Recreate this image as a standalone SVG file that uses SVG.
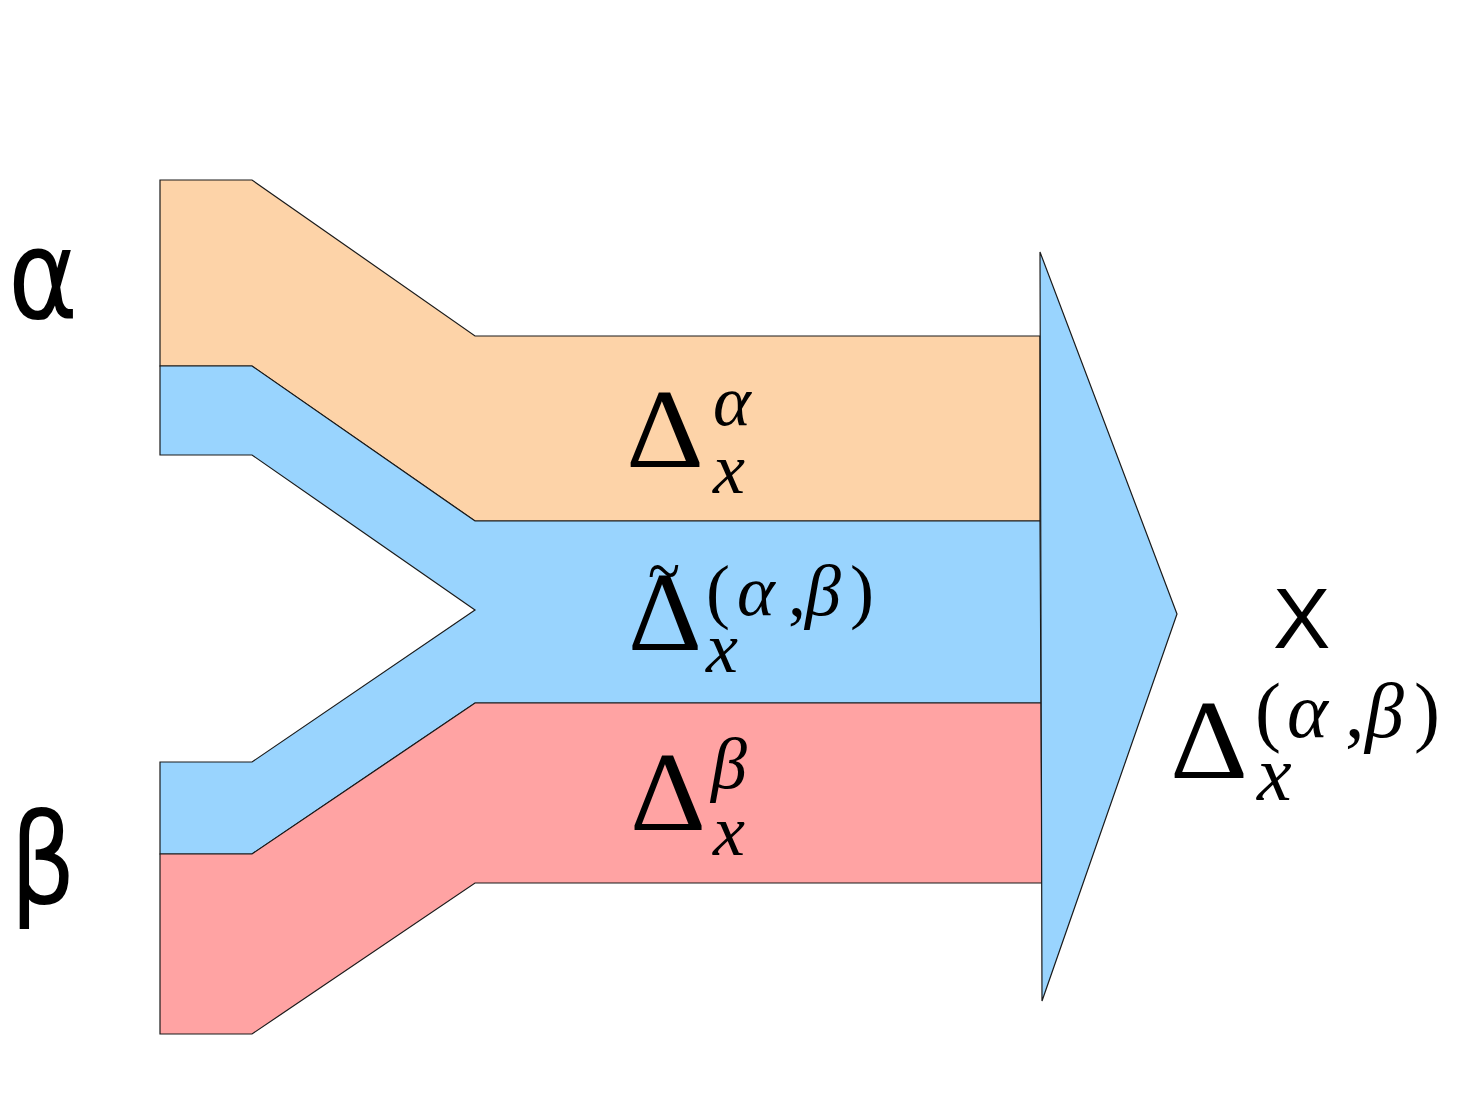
<svg xmlns="http://www.w3.org/2000/svg" width="1464" height="1109" viewBox="0 0 1464 1109">
<style>
.band{stroke:#1a1a1a;stroke-width:1.2;stroke-linejoin:miter}
.or{fill:#FDD3A8}.bl{fill:#99D4FE}.pk{fill:#FFA3A3}
.big{font-family:"DejaVu Sans",sans-serif;font-size:125px;fill:#000}
.D{font-family:"Liberation Serif",serif;font-size:113px;fill:#000}
.s{font-family:"Liberation Serif",serif;font-style:italic;font-size:72px;fill:#000}
.p{font-family:"Liberation Serif",serif;font-size:72px;fill:#000}
.X{font-family:"Liberation Sans",sans-serif;font-size:86px;fill:#000}
</style>
<rect width="1464" height="1109" fill="#fff"/>
<g id="bands">
<polygon id="band-alpha" class="band or" points="160,180 252,180 475,336 1040,336 1040,521 475,521 252,366 160,366"/>
<polygon id="band-shared" class="band bl" points="160,366 252,366 475,521 1040,521 1041,703 475,703 252,854 160,854 160,762 252,762 475,610 252,455 160,455"/>
<polygon id="band-beta" class="band pk" points="160,854 252,854 475,703 1041,703 1042,883 475,883 252,1034 160,1034"/>
<polygon id="arrow" class="band bl" points="1040,252 1177,614 1042,1001"/>
</g>
<g id="label-alpha"><text class="big" x="8" y="318" textLength="70" lengthAdjust="spacingAndGlyphs">α</text></g>
<g id="label-beta"><text class="big" x="10" y="903" textLength="66" lengthAdjust="spacingAndGlyphs">β</text></g>
<g id="label-delta-alpha">
<text class="D" x="626" y="467" textLength="78" lengthAdjust="spacingAndGlyphs">Δ</text>
<text class="s" x="713" y="425">α</text>
<text class="s" x="713" y="493">x</text>
</g>
<g id="label-delta-tilde">
<text class="D" x="628" y="650" textLength="74" lengthAdjust="spacingAndGlyphs">Δ</text>
<text class="p" x="648" y="595" textLength="32" lengthAdjust="spacingAndGlyphs">~</text>
<text class="p" x="706" y="615">(</text>
<text class="s" x="737" y="615">α</text>
<text class="p" x="788" y="615">,</text>
<text class="s" x="805" y="615">β</text>
<text class="p" x="850" y="615">)</text>
<text class="s" x="706" y="672">x</text>
</g>
<g id="label-delta-beta">
<text class="D" x="630" y="830" textLength="76" lengthAdjust="spacingAndGlyphs">Δ</text>
<text class="s" x="711" y="788">β</text>
<text class="s" x="713" y="855">x</text>
</g>
<g id="label-output">
<text class="X" x="1273" y="648">X</text>
<text class="D" x="1170" y="778" textLength="78" lengthAdjust="spacingAndGlyphs">Δ</text>
<text class="p" x="1255" y="737" style="font-size:78px">(</text>
<text class="s" x="1287" y="737" style="font-size:78px">α</text>
<text class="p" x="1345" y="737" style="font-size:78px">,</text>
<text class="s" x="1365" y="737" style="font-size:78px">β</text>
<text class="p" x="1414" y="737" style="font-size:78px">)</text>
<text class="s" x="1257" y="800" style="font-size:78px">x</text>
</g>
</svg>
